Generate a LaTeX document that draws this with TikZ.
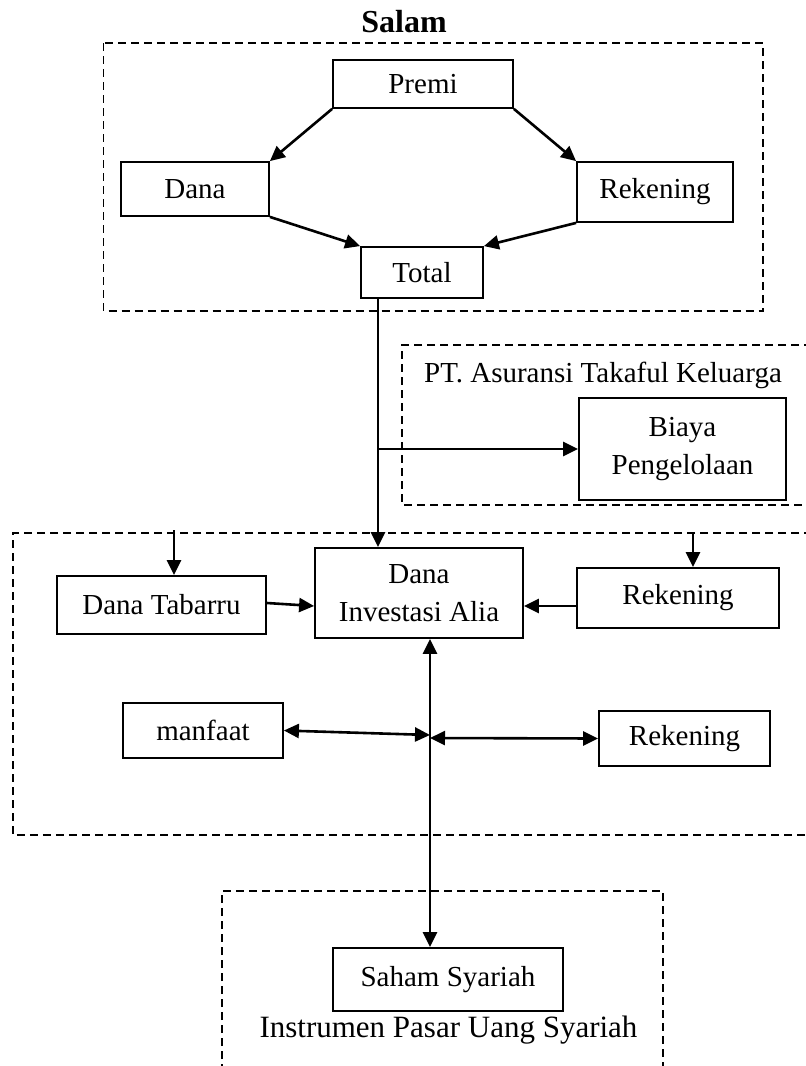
\documentclass[tikz,border=0pt]{standalone}
\usepackage{fontspec}
\setmainfont{Liberation Serif}
\usetikzlibrary{arrows.meta}
\begin{document}
\begin{tikzpicture}[x=1pt,y=-1pt,
 box/.style={draw,line width=1.8pt,rectangle,inner sep=0pt,align=center,font=\fontsize{29}{38}\selectfont},
 grp/.style={draw,line width=1.6pt,dash pattern=on 8pt off 5pt},
 arr/.style={line width=2.6pt,-{Triangle[length=15pt,width=14pt]}},
 darr/.style={line width=2.6pt,{Triangle[length=15pt,width=14pt]}-{Triangle[length=15pt,width=14pt]}},
 lbl/.style={inner sep=0pt,font=\fontsize{29}{36}\selectfont}]
\useasboundingbox (0,0) rectangle (806,1066);
% group frames
\draw[grp] (103.5,43) rectangle (763,311);
\draw[grp] (812,345) -- (402,345) -- (402,505) -- (812,505);
\draw[grp] (812,533) -- (13,533) -- (13,835) -- (812,835);
\draw[grp] (222,1072) -- (222,891) -- (663,891) -- (663,1072);
% titles
\node[inner sep=0pt,anchor=base,font=\fontsize{32}{36}\selectfont\bfseries] (salam) at (404,32) {Salam};
\node[lbl,anchor=base] (pt) at (603,382) {PT. Asuransi Takaful Keluarga};
\node[inner sep=0pt,anchor=base,font=\fontsize{31}{36}\selectfont] (instr) at (448.5,1037) {Instrumen Pasar Uang Syariah};
% boxes
\node[box,minimum width=180pt,minimum height=48pt] (premi) at (423,84) {Premi};
\node[box,minimum width=148pt,minimum height=54pt] (dana) at (195,189) {Dana};
\node[box,minimum width=156pt,minimum height=60pt] (rek1) at (655,192) {Rekening};
\node[box,minimum width=122pt,minimum height=51pt] (total) at (422,272.5) {Total};
\node[box,minimum width=207pt,minimum height=102pt] (biaya) at (682.5,449) {Biaya\\Pengelolaan};
\node[box,minimum width=209pt,minimum height=58pt] (tabarru) at (161.5,605) {Dana Tabarru};
\node[box,minimum width=208pt,minimum height=90pt] (dinv) at (419,593) {Dana\\Investasi Alia};
\node[box,minimum width=202pt,minimum height=60pt] (rek2) at (678,598) {Rekening};
\node[box,minimum width=160pt,minimum height=55pt] (manfaat) at (203,730.5) {manfaat};
\node[box,minimum width=171pt,minimum height=55pt] (rek3) at (684.5,738.5) {Rekening};
\node[box,minimum width=230pt,minimum height=63pt] (saham) at (448,979.5) {Saham Syariah};
% coordinates
\coordinate (tx) at (378,449);
\coordinate (vx) at (430,700);
\coordinate (t1) at (174,530);
\coordinate (t2) at (693,533);
\coordinate (c1) at (430,735);
\coordinate (c2) at (430,738);
% connectors
\draw[arr] (premi.south west) -- (dana.north east);
\draw[arr] (premi.south east) -- (rek1.north west);
\draw[arr] (dana.south east) -- (total.north west);
\draw[arr] (rek1.south west) -- (total.north east);
\draw[arr] (tx |- total.south) -- (tx |- dinv.north);
\draw[arr] (tx) -- (tx -| biaya.west);
\draw[arr] (t1) -- (t1 |- tabarru.north);
\draw[arr] (t2) -- (t2 |- rek2.north);
\draw[arr] ([yshift=2pt]tabarru.east) -- ([yshift=-13pt]dinv.west);
\draw[arr] ([yshift=-8pt]rek2.west) -- ([yshift=-13pt]dinv.east);
\draw[darr] (vx |- dinv.south) -- (vx |- saham.north);
\draw[darr] (manfaat.east) -- (c1);
\draw[darr] (c2) -- (rek3.west);
\end{tikzpicture}
\end{document}
